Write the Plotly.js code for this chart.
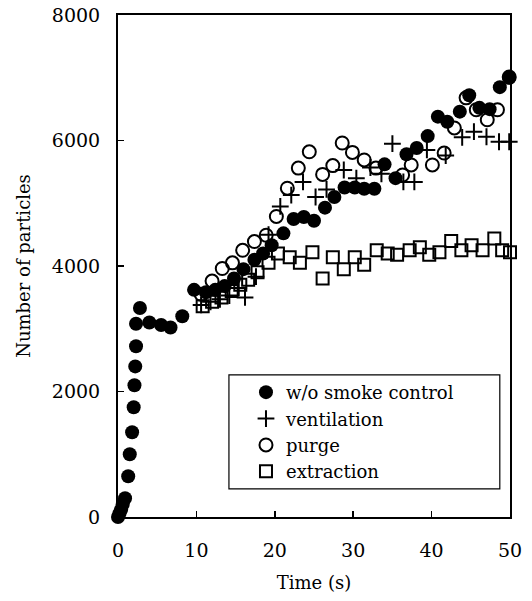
<!DOCTYPE html>
<html><head><meta charset="utf-8">
<script src="https://cdn.plot.ly/plotly-3.0.1.min.js"></script>
<style>
html,body{margin:0;padding:0;background:#fff}
#c{width:532px;height:601px}
</style>
</head><body><div id="c"></div>
<script>
const seriesNames = ["w/o smoke control", "ventilation", "purge", "extraction"];

const woTime = [0,0.2,0.4,0.6,0.9,1.3,1.5,1.8,2.0,2.1,2.2,2.3,2.3,2.8,4.0,5.5,6.7,8.2,9.7,11.2,12.4,13.6,14.8,16.0,17.4,18.5,19.6,21.1,22.4,23.7,25.0,26.4,27.6,28.9,30.2,31.4,32.7,34.0,35.4,36.8,38.1,39.5,40.8,42.0,43.6,44.8,46.1,47.4,48.7,49.9];
const woCount = [0,60,120,200,300,650,1000,1350,1750,2100,2400,2720,3080,3330,3100,3060,3020,3200,3620,3580,3620,3680,3800,3950,4100,4200,4330,4520,4750,4780,4720,4930,5100,5250,5250,5230,5230,5620,5400,5780,5880,6070,6380,6300,6460,6720,6520,6500,6850,7000];

const ventTime = [10.6,11.8,13.0,14.2,15.4,16.2,17.6,19.2,20.7,22.1,23.6,25.2,26.6,28.8,30.4,32.2,33.6,35.0,36.4,37.8,39.4,41.8,43.9,45.4,47.0,48.6,49.9];
const ventCount = [3380,3430,3470,3530,3650,3500,3830,4500,4950,5130,5340,5100,5220,5530,5400,5570,5470,5950,5340,5340,5850,5760,6050,6140,6060,5980,5980];

const purgeTime = [10.6,12.0,13.3,14.6,15.9,17.4,18.9,20.2,21.6,23.0,24.4,26.1,27.4,28.6,29.9,31.4,32.9,36.3,37.4,40.1,41.6,42.9,44.4,45.7,47.1,48.4,49.9];
const purgeCount = [3550,3760,3960,4050,4250,4390,4490,4790,5240,5560,5820,5460,5600,5960,5810,5690,5560,5450,5610,5610,5800,6200,6680,6490,6330,6490,7010];

const extrTime = [10.8,12.0,13.2,14.5,15.6,16.6,17.8,19.2,20.4,21.9,23.2,24.8,26.1,27.4,28.8,30.2,31.4,33.0,34.4,35.6,37.2,38.5,39.7,41.0,42.5,43.8,45.1,46.5,48.0,49.0,50.0];
const extrCount = [3360,3430,3500,3600,3700,3780,3900,4050,4200,4140,4050,4220,3800,4140,3950,4140,4020,4250,4200,4180,4250,4300,4180,4220,4400,4250,4330,4250,4440,4250,4220];

const xTicks = [0,10,20,30,40,50];
const yTicks = [0,2000,4000,6000,8000];

const font = "DejaVu Serif";

const traces = [
  {x: extrTime, y: extrCount, name: seriesNames[3], type: "scatter", mode: "markers",
   marker: {symbol: "square-open", size: 12, color: "#000", line: {width: 2, color: "#000"}}},
  {x: purgeTime, y: purgeCount, name: seriesNames[2], type: "scatter", mode: "markers",
   marker: {symbol: "circle-open", size: 13, color: "#000", line: {width: 2, color: "#000"}}},
  {x: ventTime, y: ventCount, name: seriesNames[1], type: "scatter", mode: "markers",
   marker: {symbol: "cross-thin-open", size: 12, color: "#000", line: {width: 2, color: "#000"}}},
  {x: woTime, y: woCount, name: seriesNames[0], type: "scatter", mode: "markers",
   marker: {symbol: "circle", size: 14, color: "#000"}}
];
traces.forEach(t => t.cliponaxis = false);

const layout = {
  width: 532, height: 601,
  margin: {l: 118, r: 22, t: 15, b: 84},
  paper_bgcolor: "#fff", plot_bgcolor: "#fff",
  font: {family: font, size: 18, color: "#000"},
  showlegend: true,
  legend: {x: 0.3265, y: 0.285, xanchor: "left", yanchor: "top",
    borderwidth: 0, bgcolor: "rgba(0,0,0,0)",
    traceorder: "reversed", itemwidth: 30, tracegroupgap: 0,
    font: {family: font, size: 18, color: "#000"}},
  shapes: [{type: "rect", xref: "paper", yref: "paper",
    x0: 0.283, x1: 0.974, y0: 0.056, y1: 0.283,
    line: {color: "#000", width: 1.2}, fillcolor: "rgba(0,0,0,0)", layer: "above"}],
  xaxis: {range: [0, 50], tickvals: xTicks, ticktext: xTicks.map(String),
    ticks: "inside", ticklen: 6, tickwidth: 1.5, tickcolor: "#000",
    showline: true, linecolor: "#000", linewidth: 2, mirror: true,
    showgrid: false, zeroline: false, ticklabelstandoff: 15,
    tickfont: {family: font, size: 19},
    title: {text: "Time (s)", font: {family: font, size: 18}, standoff: 17}},
  yaxis: {range: [0, 8000], tickvals: yTicks, ticktext: yTicks.map(String),
    ticks: "inside", ticklen: 6, tickwidth: 1.5, tickcolor: "#000",
    showline: true, linecolor: "#000", linewidth: 2, mirror: true,
    showgrid: false, zeroline: false, ticklabelstandoff: 12,
    tickfont: {family: font, size: 19},
    title: {text: "Number of particles", font: {family: font, size: 18}, standoff: 17}}
};

Plotly.newPlot("c", traces, layout, {displayModeBar: false, staticPlot: true});
</script>
</body></html>
